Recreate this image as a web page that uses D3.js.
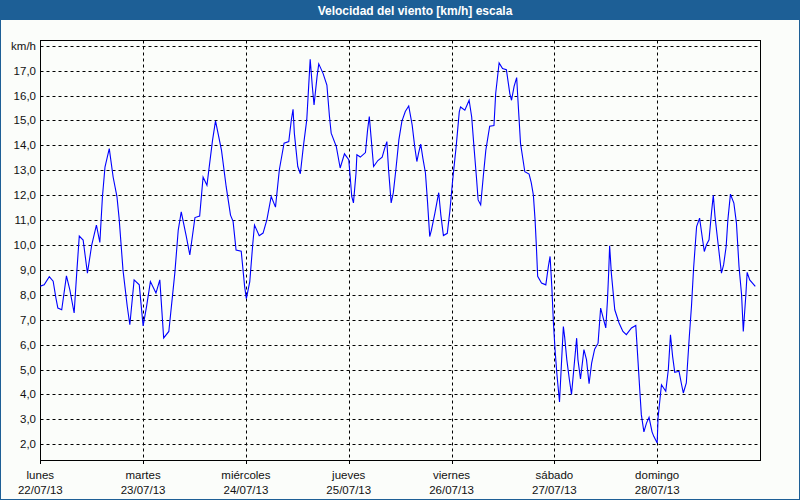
<!DOCTYPE html>
<html>
<head>
<meta charset="utf-8">
<script src="https://cdn.jsdelivr.net/npm/d3@7"></script>
<style>
html,body{margin:0;padding:0;background:#fbfdfa;}
svg{display:block;}
text{font-family:Tahoma,"Liberation Sans",Arial,sans-serif;}
</style>
</head>
<body>
<svg id="chart" width="800" height="500"></svg>
<script>
const title = "Velocidad del viento [km/h] escala";
const unitLabel = "km/h";
const dayNames = ["lunes","martes","miércoles","jueves","viernes","sábado","domingo"];
const dayDates = ["22/07/13","23/07/13","24/07/13","25/07/13","26/07/13","27/07/13","28/07/13"];
const yTicks = [2,3,4,5,6,7,8,9,10,11,12,13,14,15,16,17];
// hours since 22/07/13 00:00
const hours = [0,0.9,2.1,3.0,3.65,4.1,5.0,6.1,6.9,7.9,8.5,9.1,10.0,11.0,12.0,13.1,13.9,14.5,15.1,16.1,17.0,17.9,18.4,19.3,20.3,20.9,21.9,23.1,24.0,
24.8,25.7,27.0,27.9,28.8,30.0,31.4,32.2,32.9,34.1,34.9,36.1,37.2,38.0,38.9,40.2,40.9,42.3,43.4,44.4,45.0,45.7,46.9,47.7,48.1,
48.9,49.6,50.0,51.1,52.0,52.9,53.9,54.9,55.8,56.9,58.0,58.6,59.0,59.3,60.1,60.7,61.4,62.2,63.0,63.5,63.9,64.6,65.0,66.0,66.9,67.5,67.9,69.1,70.0,71.0,72.0,
72.3,72.7,73.1,73.7,73.9,74.7,75.9,76.4,76.8,77.2,77.8,78.8,79.8,80.4,80.9,81.3,81.9,82.4,83.0,83.7,84.4,85.2,86.0,86.8,87.4,87.9,88.3,88.8,89.3,89.9,90.4,90.9,91.3,92.1,93.0,93.5,94.1,95.0,95.6,
96.2,97.1,97.8,98.1,99.1,100.1,100.7,101.2,101.8,102.2,102.8,103.4,104.0,104.9,105.9,106.3,107.1,107.9,108.8,109.6,110.0,110.6,111.2,111.5,112.1,113.1,114.1,114.6,115.1,115.5,115.8,116.1,117.0,118.0,118.6,119.0,119.4,119.8,
120.2,120.6,121.2,121.7,122.1,122.4,122.9,123.5,124.0,124.6,125.2,125.5,126.1,126.9,127.5,128.1,128.7,129.4,130.2,130.8,131.5,132.0,132.4,132.7,132.9,133.3,134.1,135.1,136.0,136.8,138.0,139.0,139.5,140.0,140.3,140.9,141.5,142.1,142.8,143.2,
144.0,144.2,144.8,145.0,146.0,146.6,147.1,147.6,148.1,149.1,149.7,150.1,150.8,151.5,152.0,152.5,153.2,153.9,154.6,155.0,155.5,156.1,156.7,157.1,157.5,158.2,159.0,159.5,160.1,160.5,161.1,161.9,162.5,163.1,163.7,164.1,164.7,165.0,165.6,166.9];
const speeds = [8.35,8.4,8.73,8.55,7.87,7.47,7.4,8.76,8.2,7.27,8.87,10.36,10.2,8.87,10.0,10.8,10.1,11.93,13.13,13.87,12.73,11.93,11.07,9.0,7.53,6.8,8.6,8.4,6.75,
7.53,8.53,8.07,8.6,6.27,6.53,8.87,10.6,11.33,10.33,9.6,11.1,11.16,12.73,12.4,14.2,14.98,13.8,12.33,11.2,10.95,9.8,9.75,8.33,7.85,
8.53,10.05,10.8,10.37,10.48,11.02,11.95,11.52,13.02,14.09,14.15,15.02,15.45,14.49,13.15,12.86,13.95,15.02,17.45,16.36,15.62,16.76,17.27,16.89,16.42,15.16,14.49,13.95,13.09,13.66,13.42,
12.82,11.95,11.69,12.89,13.62,13.53,13.71,14.62,15.16,14.35,13.15,13.39,13.53,13.89,14.15,13.02,11.69,12.09,13.02,14.22,14.96,15.36,15.58,14.82,13.95,13.35,13.69,14.05,13.49,12.9,11.7,10.34,10.6,11.27,12.1,11.2,10.38,10.47,11.35,
12.5,14.0,15.34,15.54,15.41,15.81,15.14,14.01,12.74,11.81,11.61,12.74,13.81,14.77,14.8,16.08,17.31,17.08,17.04,16.08,15.81,16.37,16.72,15.81,14.08,12.94,12.85,12.5,12.0,11.0,9.94,8.74,8.47,8.4,9.14,9.54,8.34,6.8,
5.7,4.8,3.7,5.4,6.73,6.3,5.4,4.6,4.0,5.13,6.26,5.4,4.62,5.8,5.4,4.43,5.26,5.82,6.06,7.47,7.0,6.67,7.8,9.0,9.97,8.87,7.4,6.87,6.53,6.4,6.67,6.77,5.4,4.0,3.19,2.5,2.85,3.08,2.5,2.32,
2.05,3.06,4.06,4.39,4.13,5.0,6.4,5.53,4.89,4.93,4.39,4.06,4.46,6.33,7.53,9.07,10.74,11.08,10.21,9.74,10.01,10.21,11.34,12.0,11.14,10.07,8.87,9.2,9.94,11.01,12.04,11.68,10.88,9.14,8.0,6.53,8.0,8.9,8.6,8.34];

const svg = d3.select("#chart");
const W = 800, H = 500;
const pL = 40.5, pR = 760.5, pT = 40.5, pB = 460.5;

// background & border
svg.append("rect").attr("x",0.5).attr("y",0.5).attr("width",W-1).attr("height",H-1)
  .attr("fill","#fbfdfa").attr("stroke","#1d5f96").attr("stroke-width",1);
svg.append("rect").attr("x",0).attr("y",0).attr("width",W).attr("height",20).attr("fill","#1d5f96");
svg.append("text").attr("x",415).attr("y",14.5).attr("text-anchor","middle")
  .attr("fill","#fff").attr("font-weight","bold").attr("font-size","12px").text(title);

const x = d3.scaleLinear().domain([0,168]).range([40.3,760]);
const y = d3.scaleLinear().domain([2,18]).range([444.3,45.7]);

const g = svg.append("g");
// horizontal grid
const hy = yTicks.concat([18]);
g.selectAll("line.hg").data(hy).join("line").attr("class","hg")
  .attr("x1",pL).attr("x2",pR)
  .attr("y1",d=>Math.round(y(d))+0.5).attr("y2",d=>Math.round(y(d))+0.5)
  .attr("stroke","#000").attr("stroke-width",1).attr("stroke-dasharray","3,3");
// vertical grid
const days = d3.range(1,7);
g.selectAll("line.vg").data(days).join("line").attr("class","vg")
  .attr("x1",d=>Math.round(x(d*24))+0.5).attr("x2",d=>Math.round(x(d*24))+0.5)
  .attr("y1",pT).attr("y2",pB)
  .attr("stroke","#000").attr("stroke-width",1).attr("stroke-dasharray","3,3");

// frame
svg.append("rect").attr("x",pL).attr("y",pT).attr("width",pR-pL).attr("height",pB-pT)
  .attr("fill","none").attr("stroke","#000").attr("stroke-width",1);

// y labels
svg.selectAll("text.yl").data(yTicks).join("text").attr("class","yl")
  .attr("x",36).attr("y",d=>y(d)+4).attr("text-anchor","end")
  .attr("font-size","11.5px").attr("fill","#111").text(d=>d.toFixed(1).replace(".",","));
svg.append("text").attr("x",36).attr("y",y(18)+4).attr("text-anchor","end")
  .attr("font-size","11.5px").attr("fill","#111").text(unitLabel);

// x ticks & labels
const dIdx = d3.range(0,7);
svg.selectAll("line.xt").data(dIdx).join("line").attr("class","xt")
  .attr("x1",d=>Math.round(x(d*24))+0.5).attr("x2",d=>Math.round(x(d*24))+0.5)
  .attr("y1",pB).attr("y2",pB+3.5).attr("stroke","#000");
svg.selectAll("text.xd").data(dIdx).join("text").attr("class","xd")
  .attr("x",d=>x(d*24)).attr("y",479).attr("text-anchor","middle")
  .attr("font-size","11.5px").attr("fill","#111").text(d=>dayNames[d]);
svg.selectAll("text.xdt").data(dIdx).join("text").attr("class","xdt")
  .attr("x",d=>x(d*24)).attr("y",494).attr("text-anchor","middle")
  .attr("font-size","11.5px").attr("fill","#111").text(d=>dayDates[d]);

// line
const pts = hours.map((h,i)=>[h,speeds[i]]);
svg.append("path").datum(pts)
  .attr("d", d3.line().x(d=>x(d[0])).y(d=>y(d[1])))
  .attr("fill","none").attr("stroke","#0000ff").attr("stroke-width",1.1);
</script>
</body>
</html>
